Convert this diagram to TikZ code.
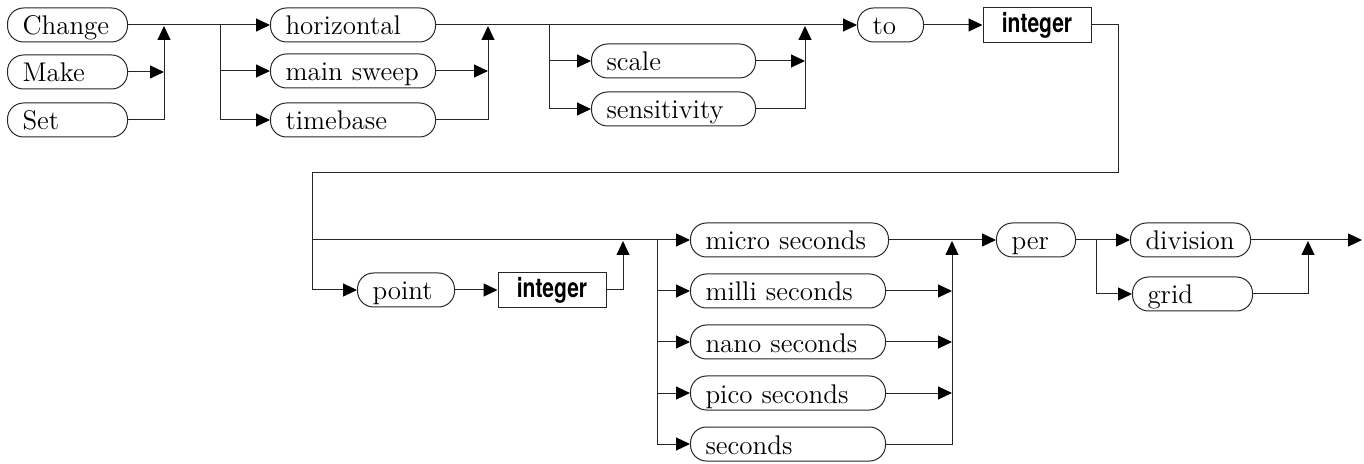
\documentclass[tikz,border=0pt]{standalone}
\usepackage{fontspec}
\usetikzlibrary{arrows.meta}
\newfontfamily\intfont[FakeStretch=0.78]{TeX Gyre Heros}
\colorlet{ln}{black!85}
\tikzset{
  rr/.style={draw=ln, rounded corners=8pt, minimum height=17pt, inner xsep=7.5pt, inner ysep=0pt,
    align=left, text height=12pt, text depth=2pt, anchor=west,
    font=\fontsize{13.5}{15}\selectfont, line width=0.5pt},
  ibox/.style={draw=ln, rectangle, minimum width=54pt, minimum height=17.5pt, inner sep=0pt,
    text height=10.5pt, text depth=2.5pt, font=\intfont\bfseries\fontsize{13.5}{15}\selectfont, line width=0.5pt},
  conn/.style={draw=ln, line width=0.5pt},
  arr/.style={draw=ln, line width=0.5pt, -{Triangle[length=7pt,width=6.5pt,color=black]}}
}
\begin{document}
\begin{tikzpicture}[x=0.5pt,y=-0.5pt]
\useasboundingbox (0,0) rectangle (1364,464);
% row 1
\node[rr, text width=45pt] (change) at (7,25) {Change};
\node[rr, text width=45pt] (make) at (7,72) {Make};
\node[rr, text width=45pt] (set) at (7,120) {Set};
\node[rr, text width=67.5pt] (horizontal) at (270,25) {horizontal};
\node[rr, text width=67.5pt] (mainsweep) at (270,71) {main~sweep};
\node[rr, text width=67.5pt] (timebase) at (270,120) {timebase};
\node[rr, text width=67pt] (scale) at (591,61) {scale};
\node[rr, text width=67pt] (sensitivity) at (591,109) {sensitivity};
\node[rr, text width=18pt] (to) at (857,25) {to};
\node[ibox] (int1) at (1037,25) {integer};
% row 2
\node[rr, text width=33.5pt] (point) at (357,290) {point};
\node[ibox] (int2) at (552,290) {integer};
\node[rr, text width=84pt] (micro) at (690,240) {micro~seconds};
\node[rr, text width=82.5pt] (milli) at (690,291) {milli~seconds};
\node[rr, text width=82.5pt] (nano) at (690,342) {nano~seconds};
\node[rr, text width=82.5pt] (pico) at (690,393) {pico~seconds};
\node[rr, text width=82.5pt] (seconds) at (690,444) {seconds};
\node[rr, text width=24.5pt] (per) at (996,240) {per};
\node[rr, text width=45pt] (division) at (1130,240) {division};
\node[rr, text width=45pt] (grid) at (1132,294) {grid};
% coordinates
\coordinate (j1) at (164,26);
\coordinate (m1) at (164,72);
\coordinate (b1) at (220,25);
\coordinate (j2) at (488,26);
\coordinate (m2) at (488,71);
\coordinate (b2) at (549,25);
\coordinate (j3) at (805,26);
\coordinate (m3) at (805,61);
\coordinate (r1) at (1118,25);
\coordinate (r2) at (1118,173);
\coordinate (l1) at (312,173);
\coordinate (l2) at (312,240);
\coordinate (l3) at (312,290);
\coordinate (j4) at (623,241);
\coordinate (b3) at (657,240);
\coordinate (j5) at (952,241);
\coordinate (m5a) at (952,291);
\coordinate (m5b) at (952,342);
\coordinate (m5c) at (952,393);
\coordinate (b4) at (1096,240);
\coordinate (j6) at (1308,241);
\coordinate (endp) at (1362,240);
% connectors
\draw[arr] (change.east) -- (horizontal.west);
\draw[arr] (make.east) -- (m1);
\draw[arr] (set.east) -| (j1);
\draw[arr] (b1) |- (mainsweep.west);
\draw[arr] (b1) |- (timebase.west);
\draw[arr] (horizontal.east) -- (to.west);
\draw[arr] (mainsweep.east) -- (m2);
\draw[arr] (timebase.east) -| (j2);
\draw[arr] (b2) |- (scale.west);
\draw[arr] (b2) |- (sensitivity.west);
\draw[arr] (scale.east) -- (m3);
\draw[arr] (sensitivity.east) -| (j3);
\draw[arr] (to.east) -- (int1.west);
\draw[conn] (int1.east) -- (r1) -- (r2) -- (l1) -- (l3);
\draw[arr] (l3) -- (point.west);
\draw[arr] (l2) -- (micro.west);
\draw[arr] (point.east) -- (int2.west);
\draw[arr] (int2.east) -| (j4);
\draw[arr] (b3) |- (milli.west);
\draw[arr] (b3) |- (nano.west);
\draw[arr] (b3) |- (pico.west);
\draw[arr] (b3) |- (seconds.west);
\draw[arr] (micro.east) -- (per.west);
\draw[arr] (milli.east) -- (m5a);
\draw[arr] (nano.east) -- (m5b);
\draw[arr] (pico.east) -- (m5c);
\draw[arr] (seconds.east) -| (j5);
\draw[arr] (per.east) -- (division.west);
\draw[arr] (b4) |- (grid.west);
\draw[arr] (division.east) -- (endp);
\draw[arr] (grid.east) -| (j6);
\end{tikzpicture}
\end{document}
